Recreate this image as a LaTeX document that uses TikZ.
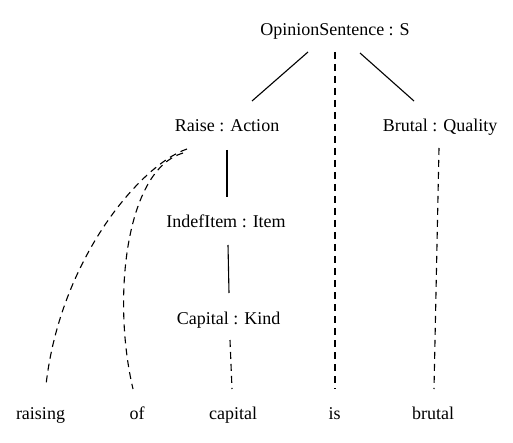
\documentclass[tikz,border=0pt]{standalone}
\usepackage{fontspec}
\setmainfont{Liberation Serif}
\usetikzlibrary{calc}
\begin{document}
\begin{tikzpicture}[x=1pt,y=-1pt,
  lbl/.style={anchor=base,inner sep=0pt,font=\fontsize{18}{20}\selectfont},
  solidedge/.style={line width=1.1pt},
  dashededge/.style={line width=1.1pt,dash pattern=on 7pt off 5pt}]
\useasboundingbox[fill=white] (0,0) rectangle (513,443);
\node[lbl] (S) at (335,36) {OpinionSentence : S};
\node[lbl] (raise) at (227,132) {Raise : Action};
\node[lbl] (brutalQ) at (440,132) {Brutal : Quality};
\node[lbl] (indef) at (226,228) {IndefItem : Item};
\node[lbl] (capK) at (228.5,324) {Capital : Kind};
\node[lbl] (w1) at (40.5,419) {raising};
\node[lbl] (w2) at (137,419) {of};
\node[lbl] (w3) at (233,419) {capital};
\node[lbl] (w4) at (334.5,419) {is};
\node[lbl] (w5) at (433,419) {brutal};
% solid edges
\draw[solidedge] ($(S.base)+(-27,16)$) -- ($(raise.base)+(25,-31)$);
\draw[solidedge] ($(S.base)+(25,17)$) -- ($(brutalQ.base)+(-26,-31)$);
\draw[solidedge] ($(raise.base)+(0,18)$) -- ($(indef.base)+(1,-31)$);
\draw[solidedge] ($(indef.base)+(2,17)$) -- ($(capK.base)+(0.5,-31)$);
% dashed edges
\draw[dashededge] ($(S.base)+(0,16)$) -- ($(w4.base)+(0.5,-30)$);
\draw[dashededge] ($(brutalQ.base)+(-1,16)$) -- ($(w5.base)+(1,-30)$);
\draw[dashededge] ($(capK.base)+(1.5,16)$) -- ($(w3.base)+(-1,-30)$);
\draw[dashededge] ($(raise.base)+(-40,17)$) .. controls +(-47,16) and +(14,-125) .. ($(w1.base)+(5.5,-34)$);
\draw[dashededge] ($(raise.base)+(-44,21)$) .. controls +(-58,17) and +(-21,-89) .. ($(w2.base)+(-4,-30)$);
\end{tikzpicture}
\end{document}
